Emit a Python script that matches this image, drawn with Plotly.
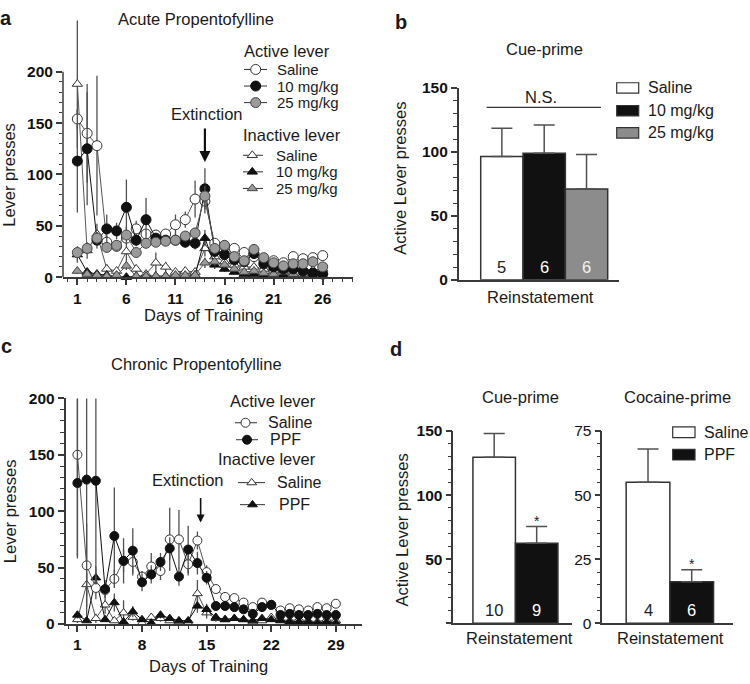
import plotly.graph_objects as go

W, H = 750, 684
FONT = "Liberation Sans, Arial, Helvetica, sans-serif"
AX = "#3a3a3a"
ERR = "#505050"
TXT = "#1a1a1a"

# ---------------- Panel a: Acute Propentofylline ----------------
a_days = list(range(1, 27))
a_act_saline = [154, 140, 128, 34, 30, 38, 47, 42, 41, 42, 51, 56, 76, 74, 33, 30, 28, 24, 20, 17, 16, 14, 20, 18, 19, 21]
a_act_10 = [113, 125, 36, 47, 45, 68, 36, 56, 38, 36, 36, 34, 33, 86, 25, 22, 17, 15, 23, 13, 10, 8, 8, 6, 4, 3]
a_act_25 = [24, 28, 38, 29, 31, 41, 24, 33, 34, 35, 36, 40, 43, 79, 28, 31, 20, 16, 27, 19, 14, 11, 13, 13, 15, 10]
a_in_saline = [188, 26, 42, 8, 6, 25, 8, 3, 14, 10, 5, 6, 5, 28, 20, 15, 12, 10, 10, 8, 7, 7, 8, 8, 7, 8]
a_in_10 = [22, 5, 3, 2, 1, 0, 1, 1, 1, 1, 1, 1, 2, 38, 12, 8, 5, 3, 3, 2, 1, 2, 2, 1, 1, 1]
a_in_25 = [6, 3, 2, 1, 2, 11, 1, 1, 1, 1, 2, 2, 2, 14, 15, 12, 8, 5, 6, 4, 3, 5, 3, 3, 4, 5]
a_act_saline_err = [10, 48, 68, 6, 5, 6, 8, 5, 5, 5, 10, 8, 18, 12, 4, 4, 4, 3, 3, 3, 3, 3, 3, 3, 3, 4]
a_act_10_err = [50, 55, 8, 14, 8, 27, 6, 21, 5, 5, 5, 5, 6, 20, 5, 5, 4, 3, 5, 3, 3, 2, 2, 2, 2, 2]
a_act_25_err = [5, 5, 6, 5, 5, 8, 4, 5, 4, 4, 4, 5, 5, 10, 5, 5, 4, 3, 4, 3, 3, 3, 3, 3, 3, 3]
a_in_saline_err = [62, 8, 10, 4, 3, 10, 4, 2, 10, 5, 2, 3, 2, 8, 5, 4, 3, 3, 3, 2, 2, 2, 2, 2, 2, 2]
a_in_10_err = [8, 2, 1, 1, 1, 0, 1, 1, 1, 1, 1, 1, 1, 8, 4, 3, 2, 1, 1, 1, 1, 1, 1, 1, 1, 1]
a_in_25_err = [3, 1, 1, 1, 1, 4, 1, 1, 1, 1, 1, 1, 1, 5, 4, 3, 2, 2, 2, 1, 1, 1, 1, 1, 1, 1]
a_xticks = [1, 6, 11, 16, 21, 26]
a_yticks = [0, 50, 100, 150, 200]
a_extinction_day = 14

# ---------------- Panel b: Cue-prime (acute) ----------------
b_groups = ["Saline", "10 mg/kg", "25 mg/kg"]
b_means = [96.5, 99, 71]
b_sem = [22, 22, 27]
b_n = ["5", "6", "6"]
b_yticks = [0, 50, 100, 150]

# ---------------- Panel c: Chronic Propentofylline ----------------
c_days = list(range(1, 30))
c_act_saline = [150, 52, 32, 30, 40, 56, 55, 42, 51, 47, 75, 75, 53, 74, 46, 31, 24, 23, 19, 15, 19, 17, 12, 14, 13, 12, 15, 14, 18]
c_act_ppf = [125, 128, 127, 31, 78, 56, 65, 37, 44, 55, 67, 42, 66, 54, 41, 16, 16, 15, 13, 9, 15, 17, 8, 9, 8, 8, 9, 8, 8]
c_in_saline = [4, 35, 5, 17, 3, 10, 6, 1, 6, 5, 3, 2, 1, 27, 10, 5, 4, 5, 4, 2, 3, 6, 4, 3, 4, 3, 2, 4, 3]
c_in_ppf = [8, 3, 41, 4, 19, 2, 11, 4, 1, 8, 5, 3, 3, 16, 13, 6, 4, 5, 4, 3, 5, 4, 3, 2, 2, 2, 1, 2, 1]
c_act_saline_err_up = [92, 37, 10, 6, 8, 10, 12, 5, 12, 8, 28, 26, 10, 8, 6, 4, 3, 3, 3, 3, 3, 2, 2, 2, 2, 2, 2, 2, 3]
c_act_saline_err_dn = [92, 37, 10, 6, 8, 10, 12, 5, 12, 8, 28, 26, 10, 8, 6, 4, 3, 3, 3, 3, 3, 2, 2, 2, 2, 2, 2, 2, 3]
c_act_ppf_err_up = [75, 121, 92, 8, 43, 20, 20, 8, 8, 8, 10, 8, 21, 10, 6, 4, 4, 3, 3, 3, 3, 3, 2, 2, 2, 2, 2, 2, 2]
c_act_ppf_err_dn = [65, 121, 92, 8, 43, 20, 20, 8, 8, 8, 10, 8, 21, 10, 6, 4, 4, 3, 3, 3, 3, 3, 2, 2, 2, 2, 2, 2, 2]
c_in_saline_err = [3, 10, 4, 8, 2, 11, 3, 1, 3, 3, 2, 1, 1, 12, 5, 3, 2, 2, 2, 1, 1, 2, 1, 1, 1, 1, 1, 1, 1]
c_in_ppf_err = [3, 2, 10, 2, 8, 2, 5, 2, 1, 3, 2, 1, 1, 6, 5, 3, 2, 2, 2, 1, 1, 1, 1, 1, 1, 1, 1, 1, 1]
c_xticks = [1, 8, 15, 22, 29]
c_yticks = [0, 50, 100, 150, 200]
c_extinction_day = 14

# ---------------- Panel d: Chronic reinstatement ----------------
d_groups = ["Saline", "PPF"]
d_cue_means = [129.5, 62.5]
d_cue_sem = [18.5, 13]
d_cue_n = ["10", "9"]
d_coc_means = [55, 16.2]
d_coc_sem = [13, 4.7]
d_coc_n = ["4", "6"]
d_cue_yticks = [50, 100, 150]
d_coc_yticks = [0, 25, 50, 75]

# ---------------- helpers ----------------
def dom_x(p0, p1):
    return [p0 / W, p1 / W]

def dom_y(pb, pt):
    return [1 - pb / H, 1 - pt / H]

fig = go.Figure()
annotations = []
shapes = []

def ann(text, px, py, size=16.5, xanchor="center", bold=False, color=TXT, angle=0):
    annotations.append(dict(text=text, x=px / W, y=1 - py / H, xref="paper", yref="paper",
                            xanchor=xanchor, yanchor="middle", showarrow=False, textangle=angle,
                            borderpad=0,
                            font=dict(family=FONT, size=size, color=color,
                                      weight="bold" if bold else "normal")))

def series(days, vals, err, xa, ya, symbol, fill, edge, lcol, size, errdn=None, lw=1):
    ed = dict(type="data", array=err, visible=True, color=ERR, thickness=1.3, width=0)
    if errdn is not None:
        ed.update(symmetric=False, arrayminus=errdn)
    fig.add_trace(go.Scatter(x=days, y=vals, xaxis=xa, yaxis=ya, mode="lines+markers",
                             cliponaxis=False, line=dict(color=lcol, width=lw),
                             marker=dict(symbol=symbol, size=size, color=fill,
                                         line=dict(color=edge, width=1)),
                             error_y=ed, hoverinfo="x+y"))

def legend_row(label, symbol, fill, edge, x0, x1, xm, py, tx, size, fs=15):
    fig.add_trace(go.Scatter(x=[x0, x1], y=[py, py], xaxis="x6", yaxis="y6", mode="lines",
                             cliponaxis=False, line=dict(color="#333", width=1), hoverinfo="skip"))
    fig.add_trace(go.Scatter(x=[xm], y=[py], xaxis="x6", yaxis="y6", mode="markers",
                             cliponaxis=False,
                             marker=dict(symbol=symbol, size=size, color=fill,
                                         line=dict(color=edge, width=1)), hoverinfo="skip"))
    ann(label, tx, py, size=fs, xanchor="left")

def legend_box(label, fill, x0, x1, yc, hgt, tx, fs=16):
    shapes.append(dict(type="rect", xref="paper", yref="paper",
                       x0=x0 / W, x1=x1 / W, y0=1 - (yc + hgt / 2) / H, y1=1 - (yc - hgt / 2) / H,
                       line=dict(color="#333", width=1.2), fillcolor=fill))
    ann(label, tx, yc, size=fs, xanchor="left")

WHITE, BLACK, GRAY = "#ffffff", "#111111", "#8c8c8c"
CGRAY = "#9a9a9a"

# ---------------- panel a traces ----------------
series(a_days, a_in_saline, a_in_saline_err, "x", "y", "triangle-up", WHITE, "#333", "#555", 9)
series(a_days, a_in_10, a_in_10_err, "x", "y", "triangle-up", BLACK, BLACK, "#111", 9)
series(a_days, a_in_25, a_in_25_err, "x", "y", "triangle-up", CGRAY, "#444", "#555", 9)
series(a_days, a_act_saline, a_act_saline_err, "x", "y", "circle", WHITE, "#333", "#555", 10)
series(a_days, a_act_10, a_act_10_err, "x", "y", "circle", BLACK, BLACK, "#111", 10)
series(a_days, a_act_25, a_act_25_err, "x", "y", "circle", CGRAY, "#444", "#555", 10)

# ---------------- panel c traces ----------------
series(c_days, c_in_saline, c_in_saline_err, "x3", "y3", "triangle-up", WHITE, "#333", "#555", 8.5)
series(c_days, c_in_ppf, c_in_ppf_err, "x3", "y3", "triangle-up", BLACK, BLACK, "#111", 8.5)
series(c_days, c_act_saline, c_act_saline_err_up, "x3", "y3", "circle", WHITE, "#333", "#555", 9, errdn=c_act_saline_err_dn)
series(c_days, c_act_ppf, c_act_ppf_err_up, "x3", "y3", "circle", BLACK, BLACK, "#111", 9, errdn=c_act_ppf_err_dn)

# ---------------- bar panels ----------------
def bars(means, sem, colors, xa, ya):
    fig.add_trace(go.Bar(x=list(range(len(means))), y=means, width=1, xaxis=xa, yaxis=ya,
                         marker=dict(color=colors, line=dict(color="#333", width=1.5)),
                         error_y=dict(type="data", array=sem, arrayminus=[0] * len(sem),
                                      symmetric=False, color=ERR, thickness=1.5, width=10.5),
                         hoverinfo="y"))

bars(b_means, b_sem, [WHITE, BLACK, GRAY], "x2", "y2")
bars(d_cue_means, d_cue_sem, [WHITE, BLACK], "x4", "y4")
bars(d_coc_means, d_coc_sem, [WHITE, BLACK], "x5", "y5")

def nlabels(ns, xa, ya, frac, colors):
    for i, n in enumerate(ns):
        annotations.append(dict(text=n, x=i, y=frac, xref=xa, yref=ya + " domain", showarrow=False,
                                xanchor="center", yanchor="middle",
                                font=dict(family=FONT, size=16.5, color=colors[i])))

nlabels(b_n, "x2", "y2", 0.066, ["#222", "#fff", "#f2f2f2"])
nlabels(d_cue_n, "x4", "y4", 0.071, ["#222", "#fff"])
nlabels(d_coc_n, "x5", "y5", 0.071, ["#222", "#fff"])

for xa, ya, means, sem in [("x4", "y4", d_cue_means, d_cue_sem), ("x5", "y5", d_coc_means, d_coc_sem)]:
    annotations.append(dict(text="*", x=1, y=means[1] + sem[1], xref=xa, yref=ya, showarrow=False,
                            xanchor="center", yanchor="bottom", yshift=-4,
                            font=dict(family=FONT, size=14, color="#222")))

# N.S. bracket in b
shapes.append(dict(type="line", xref="x2", yref="y2 domain", x0=-0.36, x1=2.34, y0=0.899, y1=0.899,
                   line=dict(color="#333", width=1.3)))
ann("N.S.", 540.8, 90)

# y-axis line of panel a drawn only over 0..200 (error bars extend above)
shapes.append(dict(type="line", xref="x domain", yref="y", x0=0, x1=0, y0=0, y1=200,
                   line=dict(color=AX, width=1.5)))

# ---------------- overlay legends ----------------
legend_row("Saline", "circle", WHITE, "#333", 244, 267, 255.7, 62, 276, 10)
legend_row("10 mg/kg", "circle", BLACK, BLACK, 244, 267, 255.7, 79, 276, 10)
legend_row("25 mg/kg", "circle", CGRAY, "#444", 244, 267, 255.7, 96, 276, 10)
legend_row("Saline", "triangle-up", WHITE, "#333", 243, 263, 252.3, 150, 275, 9)
legend_row("10 mg/kg", "triangle-up", BLACK, BLACK, 243, 263, 252.3, 167, 275, 9)
legend_row("25 mg/kg", "triangle-up", CGRAY, "#444", 243, 263, 252.3, 184, 275, 9)

legend_row("Saline", "circle", WHITE, "#333", 235, 257, 245.5, 424.3, 266.7, 9, fs=16)
legend_row("PPF", "circle", BLACK, BLACK, 236, 258, 247, 441.7, 269, 9, fs=16)
legend_row("Saline", "triangle-up", WHITE, "#333", 238, 265, 251.7, 485.7, 276, 8.5, fs=16)
legend_row("PPF", "triangle-up", BLACK, BLACK, 240, 265, 252.5, 508.3, 278, 8.5, fs=16)

for lab, fill, yc in zip(b_groups, [WHITE, BLACK, GRAY], [81, 104.3, 127]):
    legend_box(lab, fill, 616.7, 638.7, yc, 10.7, 646.7)
for lab, fill, yc in zip(d_groups, [WHITE, BLACK], [434, 457]):
    legend_box(lab, fill, 672.7, 695, yc, 11, 702.5)

# ---------------- texts ----------------
ann("a", 6, 9, size=20, bold=True)
ann("b", 401, 13, size=20, bold=True)
ann("c", 6, 346, size=20, bold=True)
ann("d", 396, 349, size=20, bold=True)

ann("Acute Propentofylline", 195.7, 10)
ann("Lever presses", 9, 170, angle=-90)
ann("Days of Training", 203, 313.3)
ann("Active lever", 243, 42.7, xanchor="left")
ann("Inactive lever", 241.7, 129.3, xanchor="left")
ann("Extinction", 207, 107.3)

ann("Cue-prime", 544, 41)
ann("Active Lever presses", 400, 174, angle=-90)
ann("Reinstatement", 540, 295)

ann("Chronic Propentofylline", 196.7, 364.3)
ann("Lever presses", 10, 515, angle=-90)
ann("Days of Training", 208.3, 673.3)
ann("Active lever", 229, 401.7, xanchor="left")
ann("Inactive lever", 216.7, 461, xanchor="left")
ann("Extinction", 188.3, 483.3)

ann("Active Lever presses", 401.7, 534, angle=-90)
ann("Cue-prime", 520.7, 398.3)
ann("Cocaine-prime", 677.7, 398.3)
ann("Reinstatement", 519, 645)
ann("Reinstatement", 670, 645)

# Extinction arrows
annotations.append(dict(text="", x=a_extinction_day, y=112, xref="x", yref="y", ax=0, ay=-35,
                        showarrow=True, arrowhead=2, arrowsize=1, arrowwidth=2.2, arrowcolor="#111"))
annotations.append(dict(text="", x=c_extinction_day + 0.35, y=90, xref="x3", yref="y3", ax=0, ay=-26,
                        showarrow=True, arrowhead=2, arrowsize=1, arrowwidth=1.6, arrowcolor="#111"))

# ---------------- axes ----------------
def tickfont(bold=True):
    return dict(family=FONT, size=15.5, color="#111", weight="bold" if bold else "normal")

def ax_common(**kw):
    d = dict(showline=True, linecolor=AX, linewidth=1.5, ticks="outside", ticklen=6, tickwidth=1.5,
             tickcolor=AX, showgrid=False, zeroline=False, fixedrange=True, tickfont=tickfont())
    d.update(kw)
    return d

def minor(vals, ln=3.5):
    return dict(tickmode="array", tickvals=vals, ticks="outside", ticklen=ln, tickwidth=1, tickcolor=AX)

A_PX_PER_UNIT = (275 - 64.3) / 200.0
A_TOP = 250

layout = dict(
    width=W, height=H, autosize=False, margin=dict(l=0, r=0, t=0, b=0),
    paper_bgcolor="white", plot_bgcolor="rgba(0,0,0,0)", showlegend=False,
    font=dict(family=FONT, color=TXT),
    xaxis=ax_common(domain=dom_x(63, 353), range=[-0.46, 29.09], anchor="y", tickmode="array",
                    tickvals=a_xticks, minor=minor(list(range(0, 30)), 3)),
    yaxis=ax_common(domain=dom_y(275, 275 - A_TOP * A_PX_PER_UNIT), range=[0, A_TOP], anchor="x",
                    tickmode="array", showline=False,
                    tickvals=a_yticks, minor=minor(list(range(10, 200, 10)))),
    xaxis2=ax_common(domain=dom_x(458.7, 618.7), range=[-1.02, 2.76], anchor="y2", ticks="",
                     showticklabels=False),
    yaxis2=ax_common(domain=dom_y(277.7, 81), range=[0, 150], anchor="x2", tickmode="array",
                     tickvals=b_yticks, minor=minor(list(range(10, 150, 10)))),
    xaxis3=ax_common(domain=dom_x(65.5, 362), range=[-0.29, 31.83], anchor="y3", tickmode="array",
                     tickvals=c_xticks, minor=minor(list(range(0, 32)), 3)),
    yaxis3=ax_common(domain=dom_y(630.7, 399.3), range=[0, 200], anchor="x3", tickmode="array",
                     tickvals=c_yticks, minor=minor(list(range(10, 200, 10)))),
    xaxis4=ax_common(domain=dom_x(453.3, 571.7), range=[-0.962, 1.824], anchor="y4", ticks="",
                     showticklabels=False),
    yaxis4=ax_common(domain=dom_y(630, 432.7), range=[0, 150], anchor="x4", tickmode="array",
                     tickvals=[0] + d_cue_yticks, ticktext=[""] + [str(v) for v in d_cue_yticks],
                     minor=minor(list(range(10, 150, 10)))),
    xaxis5=ax_common(domain=dom_x(602.3, 733.3), range=[-1.046, 1.952], anchor="y5", ticks="",
                     showticklabels=False),
    yaxis5=ax_common(domain=dom_y(630, 432.7), range=[0, 75], anchor="x5", tickmode="array",
                     tickvals=d_coc_yticks, tickfont=tickfont(False),
                     minor=minor(list(range(5, 75, 5)))),
    xaxis6=dict(domain=[0, 1], range=[0, W], visible=False, anchor="y6", fixedrange=True),
    yaxis6=dict(domain=[0, 1], range=[H, 0], visible=False, anchor="x6", fixedrange=True),
    annotations=annotations, shapes=shapes,
)
fig.update_layout(**layout)
fig.write_html("out.html", config={"responsive": False, "displayModeBar": False},
               post_script="document.body.style.margin='0px';document.body.style.padding='0px';"
                           "document.documentElement.style.overflow='hidden';")
